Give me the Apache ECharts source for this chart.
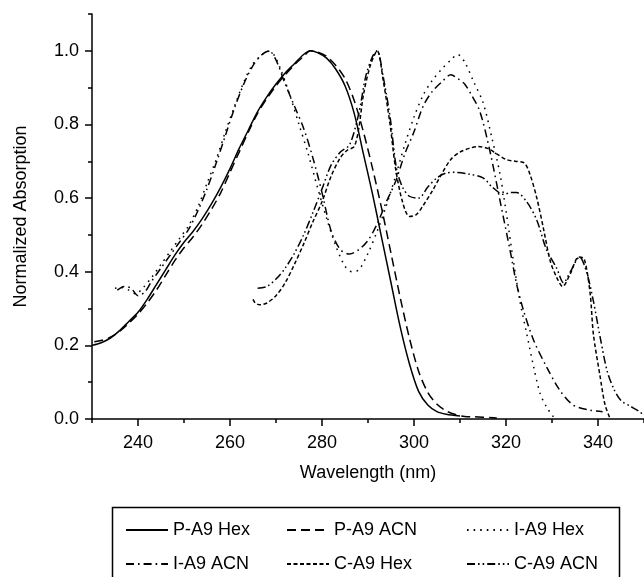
<!DOCTYPE html>
<html>
<head>
<meta charset="utf-8">
<script src="https://cdn.jsdelivr.net/npm/echarts@6/dist/echarts.min.js"></script>
<style>
html,body{margin:0;padding:0;background:#fff;}
#chart{width:644px;height:577px;}
</style>
</head>
<body>
<div id="chart"></div>
<script>
// ---- data (wavelength nm, normalized absorption) ----
const seriesNames = ['P-A9 Hex', 'P-A9 ACN', 'I-A9 Hex', 'I-A9 ACN', 'C-A9 Hex', 'C-A9 ACN'];

const pA9Hex = [[230,0.2],[232,0.207],[234,0.22],[236,0.24],[238,0.265],[240,0.29],[242,0.325],[244,0.365],[246,0.405],[248,0.445],[250,0.48],[252,0.51],[254,0.545],[256,0.585],[258,0.63],[260,0.68],[262,0.735],[264,0.785],[266,0.835],[268,0.875],[270,0.91],[272,0.94],[274,0.965],[276,0.99],[277.5,1.0],[279,0.995],[281,0.98],[283,0.95],[285,0.905],[287,0.83],[289,0.72],[291,0.61],[293,0.49],[295,0.37],[297,0.25],[299,0.15],[301,0.075],[303,0.038],[305,0.02],[307,0.013],[310,0.008]];

const pA9Acn = [[230.5,0.21],[232,0.213],[234,0.222],[236,0.238],[238,0.26],[240,0.285],[242,0.315],[244,0.35],[246,0.39],[248,0.43],[250,0.465],[252,0.495],[254,0.53],[256,0.57],[258,0.615],[260,0.67],[262,0.725],[264,0.78],[266,0.83],[268,0.87],[270,0.905],[272,0.935],[274,0.962],[276,0.985],[277.5,1.0],[279,0.997],[281,0.985],[283,0.96],[285,0.925],[287,0.865],[289,0.78],[291,0.68],[293,0.57],[295,0.45],[297,0.33],[299,0.22],[301,0.13],[303,0.072],[305,0.04],[307,0.022],[309,0.012],[311,0.007],[313,0.006],[315,0.005],[318,0.003]];

const iA9Hex = [[235,0.355],[236.5,0.357],[238,0.35],[239.5,0.34],[241,0.355],[243,0.385],[245,0.42],[247,0.455],[249,0.49],[251,0.525],[253,0.575],[255,0.64],[257,0.705],[259,0.78],[261,0.85],[263,0.915],[265,0.965],[267,0.99],[268,1.0],[269.5,0.99],[271,0.95],[273,0.88],[275,0.8],[277,0.72],[279,0.63],[281,0.545],[283,0.47],[285,0.415],[286.5,0.4],[288,0.405],[290,0.45],[292,0.51],[294,0.58],[296,0.66],[298,0.745],[300,0.82],[302,0.88],[304,0.92],[306,0.95],[308,0.975],[309.5,0.99],[311,0.97],[313,0.915],[315,0.86],[317,0.76],[318.7,0.665],[320.1,0.557],[321.6,0.43],[323,0.322],[324.5,0.232],[326,0.142],[327.4,0.07],[328.8,0.033],[330.3,0.006]];

const iA9Acn = [[235.5,0.35],[237,0.36],[238.5,0.355],[240,0.335],[241.5,0.345],[243,0.375],[245,0.41],[247,0.445],[249,0.48],[251,0.515],[253,0.565],[255,0.625],[257,0.695],[259,0.77],[261,0.845],[263,0.91],[265,0.96],[267,0.99],[268.5,1.0],[270,0.975],[272,0.91],[274,0.85],[276,0.79],[278,0.71],[280,0.615],[282,0.51],[284,0.46],[286,0.448],[288,0.46],[290,0.485],[292,0.53],[294,0.59],[296,0.645],[298,0.72],[300,0.78],[302,0.85],[304,0.89],[306,0.915],[308,0.935],[309.5,0.925],[311,0.91],[312.5,0.88],[314.3,0.836],[316.5,0.728],[318.7,0.593],[320.9,0.457],[322.3,0.367],[323.8,0.295],[326,0.214],[328.8,0.142],[331.7,0.078],[334.6,0.038],[338.3,0.024],[341,0.02]];

const cA9Hex = [[265,0.325],[265.5,0.315],[266.5,0.31],[268,0.315],[270,0.335],[272,0.37],[274,0.42],[276,0.475],[278,0.535],[280,0.59],[282,0.66],[284,0.71],[285.5,0.73],[287,0.74],[288,0.79],[289,0.88],[290.5,0.96],[292,1.0],[293.3,0.92],[294.8,0.8],[296,0.68],[297.5,0.59],[299,0.55],[300.5,0.555],[302,0.58],[304,0.62],[306,0.665],[308,0.705],[310,0.725],[312,0.735],[314,0.74],[316,0.735],[318,0.72],[320,0.705],[322,0.7],[324,0.695],[325.2,0.665],[326.7,0.6],[328.1,0.52],[329.6,0.43],[331,0.385],[332.3,0.36],[334,0.395],[335.8,0.44],[337,0.435],[338.3,0.34],[339,0.23],[340.4,0.12],[341.5,0.04],[342.5,0.005]];

const cA9Acn = [[266,0.355],[268,0.36],[270,0.38],[272,0.41],[274,0.45],[276,0.5],[278,0.56],[280,0.625],[282,0.69],[284,0.725],[286,0.745],[288,0.83],[289.5,0.93],[291,0.985],[292,1.0],[293.3,0.93],[294.8,0.82],[296.2,0.68],[297.5,0.63],[299,0.605],[301,0.6],[303,0.63],[305,0.655],[307,0.668],[309,0.67],[312,0.665],[315,0.655],[317,0.63],[319.5,0.61],[321,0.615],[322.3,0.615],[324.5,0.59],[326.7,0.54],[328.8,0.46],[331,0.41],[332.5,0.37],[334,0.4],[336,0.44],[337.5,0.4],[339,0.32],[340.5,0.22],[342,0.13],[343.5,0.08],[345,0.05],[347,0.035],[349,0.02],[350,0.01]];

const xMajorTicks = [240, 260, 280, 300, 320, 340];
const xMinorTicks = [230, 250, 270, 290, 310, 330, 350];
const yMajorTicks = [0, 0.2, 0.4, 0.6, 0.8, 1.0];
const yMinorTicks = [0.1, 0.3, 0.5, 0.7, 0.9, 1.1];

// ---- chart ----
const FONT = '"Liberation Sans", Arial, Helvetica, sans-serif';
const FS = 18;
const dashes = {
  'P-A9 Hex': 'solid',
  'P-A9 ACN': [9, 5],
  'I-A9 Hex': [1.6, 5],
  'I-A9 ACN': [8, 4, 1.6, 4],
  'C-A9 Hex': [4, 2.5],
  'C-A9 ACN': [8, 3, 1.6, 3, 1.6, 3]
};
const dataMap = {
  'P-A9 Hex': pA9Hex, 'P-A9 ACN': pA9Acn, 'I-A9 Hex': iA9Hex,
  'I-A9 ACN': iA9Acn, 'C-A9 Hex': cA9Hex, 'C-A9 ACN': cA9Acn
};

const chart = echarts.init(document.getElementById('chart'), null, {renderer: 'canvas'});
const axisCommon = {
  type: 'value',
  axisLine: {show: true, lineStyle: {color: '#000', width: 1.5}},
  splitLine: {show: false},
};
const legendCommon = {
  orient: 'vertical',
  top: 521,
  itemWidth: 42,
  itemHeight: 14,
  itemGap: 16,
  padding: 0,
  itemStyle: {opacity: 0, color: 'rgba(0,0,0,0)', borderWidth: 0},
  textStyle: {fontSize: FS, color: '#000', fontFamily: FONT},
  selectedMode: false
};

const option = {
  animation: false,
  backgroundColor: '#fff',
  grid: {left: 92, right: 0, top: 14, bottom: 158, containLabel: false},
  xAxis: [
    Object.assign({}, axisCommon, {
      min: 230, max: 350, position: 'bottom',
      name: 'Wavelength (nm)', nameLocation: 'middle', nameGap: 45,
      nameTextStyle: {fontSize: FS, color: '#000', fontFamily: FONT},
      axisTick: {show: true, inside: false, length: 7, lineStyle: {color: '#000', width: 1.5}, customValues: xMajorTicks},
      axisLabel: {show: true, margin: 15, fontSize: FS, color: '#000', fontFamily: FONT, customValues: xMajorTicks}
    }),
    Object.assign({}, axisCommon, {
      min: 230, max: 350, position: 'bottom',
      axisLine: {show: false},
      axisTick: {show: true, inside: false, length: 4, lineStyle: {color: '#000', width: 1.5}, customValues: xMinorTicks},
      axisLabel: {show: false}
    })
  ],
  yAxis: [
    Object.assign({}, axisCommon, {
      min: 0, max: 1.1, position: 'left',
      name: 'Normalized Absorption', nameLocation: 'middle', nameGap: 62, nameRotate: 90,
      nameTextStyle: {fontSize: FS, color: '#000', fontFamily: FONT},
      axisTick: {show: true, inside: false, length: 7, lineStyle: {color: '#000', width: 1.5}, customValues: yMajorTicks},
      axisLabel: {show: true, margin: 13, fontSize: FS, color: '#000', fontFamily: FONT, customValues: yMajorTicks,
        formatter: v => Number(v).toFixed(1)}
    }),
    Object.assign({}, axisCommon, {
      min: 0, max: 1.1, position: 'left',
      axisLine: {show: false},
      axisTick: {show: true, inside: false, length: 4, lineStyle: {color: '#000', width: 1.5}, customValues: yMinorTicks},
      axisLabel: {show: false}
    })
  ],
  legend: [
    Object.assign({}, legendCommon, {left: 125, data: ['P-A9 Hex', 'I-A9 ACN']}),
    Object.assign({}, legendCommon, {left: 286, data: ['P-A9 ACN', 'C-A9 Hex']}),
    Object.assign({}, legendCommon, {left: 466, data: ['I-A9 Hex', 'C-A9 ACN']})
  ],
  graphic: [{
    type: 'rect', silent: true,
    shape: {x: 112.5, y: 507.5, width: 507, height: 100},
    style: {fill: 'none', stroke: '#000', lineWidth: 1.5}
  }],
  series: seriesNames.map(n => ({
    name: n,
    type: 'line',
    xAxisIndex: 0, yAxisIndex: 0,
    data: dataMap[n],
    symbol: 'none',
    smooth: 0.3,
    color: '#000',
    lineStyle: {color: '#000', width: 1.5, type: dashes[n]},
    emphasis: {disabled: true}
  }))
};
chart.setOption(option);
</script>
</body>
</html>
